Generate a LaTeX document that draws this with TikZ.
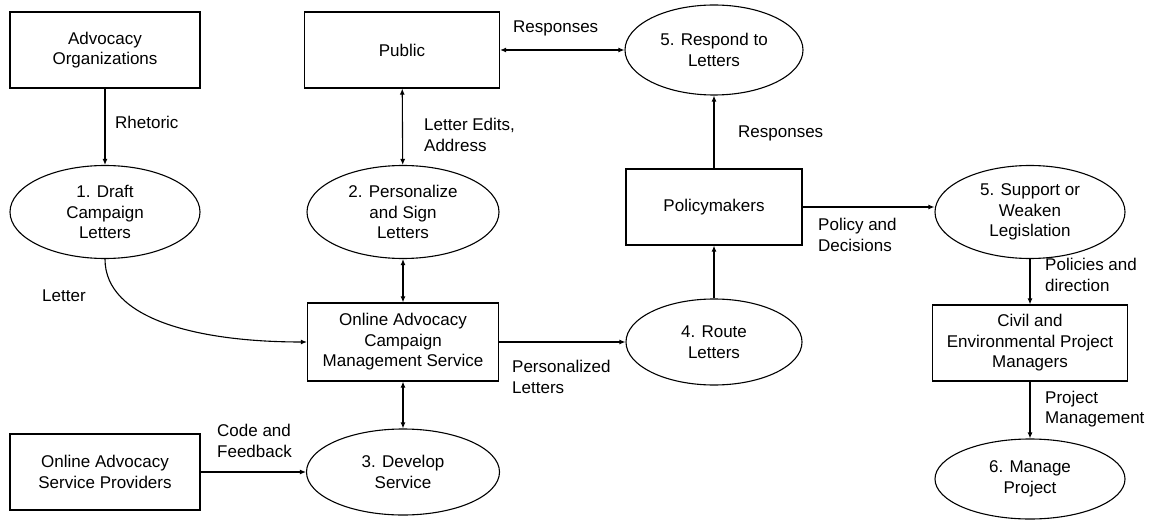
\documentclass[tikz,border=0pt]{standalone}
\usepackage{fontspec}
\setmainfont{Liberation Sans}
\usetikzlibrary{shapes.geometric,arrows.meta}
\begin{document}
\begin{tikzpicture}[x=1pt,y=-1pt,font=\fontsize{17}{20.5}\selectfont]
            \tikzset{
                entity/.style={draw,line width=1.2pt,rectangle,inner sep=0pt,align=center,minimum width=#1,minimum height=76pt},
                entity/.default=190pt,
                process/.style args={#1 by #2}{draw,line width=1.1pt,ellipse,inner sep=0pt,align=center,minimum width=#1,minimum height=#2},
                flow/.style={line width=1.1pt,-{Latex[length=6pt,width=5pt]}},
                twoway/.style={line width=1.1pt,{Latex[length=6pt,width=5pt]}-{Latex[length=6pt,width=5pt]}},
                lbl/.style={anchor=west,align=left,inner sep=0pt}}
            \useasboundingbox (0,0) rectangle (1158,521);
            % external entities
            \node[entity] (advorg) at (105,50) {Advocacy\\Organizations};
            \node[entity=195pt] (public) at (402,50) {Public};
            \node[entity=176pt] (policy) at (714,207) {Policymakers};
            \node[entity=191pt,minimum height=78pt] (oacms) at (403,342) {Online Advocacy\\Campaign\\Management Service};
            \node[entity=195pt] (civil) at (1030,343) {Civil and\\Environmental Project\\Managers};
            \node[entity] (provider) at (105,472) {Online Advocacy\\Service Providers};
            % processes
            \node[process=178pt by 90pt] (respond) at (714,50) {5. Respond to\\Letters};
            \node[process=190pt by 93pt] (draft) at (105,212) {1. Draft\\Campaign\\Letters};
            \node[process=192pt by 93pt] (personal) at (403,212) {2. Personalize\\and Sign\\Letters};
            \node[process=190pt by 93pt] (support) at (1030,212) {5. Support or\\Weaken\\Legislation};
            \node[process=176pt by 86pt] (route) at (714,342) {4. Route\\Letters};
            \node[process=193pt by 86pt] (develop) at (403,472) {3. Develop\\Service};
            \node[process=190pt by 80pt] (manage) at (1030,479) {6. Manage\\Project};
            % flows
            \draw[flow] (advorg) -- (draft);
            \draw[twoway] (public) -- (respond);
            \draw[twoway] (public) -- (personal);
            \draw[twoway] (personal) -- (oacms);
            \draw[twoway] (oacms) -- (develop);
            \draw[flow] (draft.south) .. controls (105,320) and (200,342) .. (oacms.west);
            \draw[flow] (oacms) -- (route);
            \draw[flow] (route) -- (policy);
            \draw[flow] (policy) -- (respond);
            \draw[flow] (policy.east) -- (policy.east -| support.west);
            \draw[flow] (support) -- (civil);
            \draw[flow] (civil) -- (manage);
            \draw[flow] (provider) -- (develop);
            % flow labels
            \node[lbl] (rhetoric) at (115,122) {Rhetoric};
            \node[lbl] (resp1) at (513,28) {Responses};
            \node[lbl] (edits) at (424,135) {Letter Edits,\\Address};
            \node[lbl] (resp2) at (738,133) {Responses};
            \node[lbl] (decide) at (818,235) {Policy and\\Decisions};
            \node[lbl] (letter) at (42,296) {Letter};
            \node[lbl] (perslet) at (512,377) {Personalized\\Letters};
            \node[lbl] (code) at (217,441) {Code and\\Feedback};
            \node[lbl] (direct) at (1045,275) {Policies and\\direction};
            \node[lbl] (projman) at (1045,409) {Project\\Management};
        \end{tikzpicture}
\end{document}
